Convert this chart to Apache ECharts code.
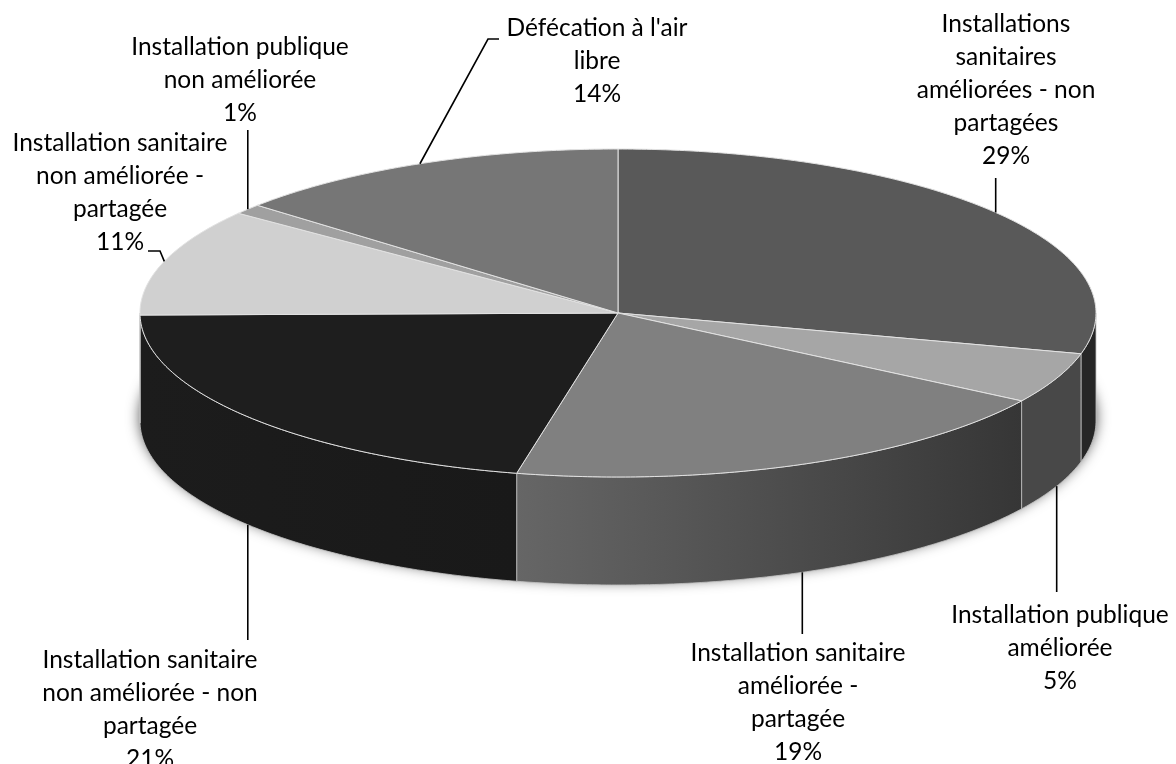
<!DOCTYPE html>
<html>
<head>
<meta charset="utf-8">
<title>Installations sanitaires</title>
<style>
html, body { margin: 0; padding: 0; background: #fff; }
#chart { width: 1176px; height: 764px; }
</style>
<script src="https://cdn.jsdelivr.net/npm/echarts@6/dist/echarts.min.js"></script>
</head>
<body>
<div id="chart"></div>
<script>
var categories = [
    'Installations\nsanitaires\naméliorées - non\npartagées',
    'Installation publique\naméliorée',
    'Installation sanitaire\naméliorée -\npartagée',
    'Installation sanitaire\nnon améliorée - non\npartagée',
    'Installation sanitaire\nnon améliorée -\npartagée',
    'Installation publique\nnon améliorée',
    "Défécation à l'air\nlibre"
];
// estimated from the slice edges, they round to the printed labels
var values = [29.0, 5.0, 19.4, 21.4, 10.6, 1.0, 13.6];

// styles
var topColors = ['#595959', '#a6a6a6', '#808080', '#1e1e1e', '#d0d0d0', '#a0a0a0', '#767676'];
var wallColors = [
    ['#262626', '#262626'],
    ['#484848', '#484848'],
    ['#666666', '#363636'],
    ['#1c1c1c', '#191919'],
    ['#333333', '#333333'],
    ['#333333', '#333333'],
    ['#333333', '#333333']
];
// label centres and leader routes (x null = straight down/up from the slice)
var labelPos = [[1006, 8], [1060, 599], [798, 637], [150, 644], [120, 127], [240, 31], [597, 12]];
var leaderRoutes = [
    [[null, 178]],
    [[null, 592]],
    [[null, 634]],
    [[null, 640]],
    [[160, 251], [148, 251]],
    [[null, 130]],
    [[488, 39], [499, 39]]
];

(function () {
    'use strict';
    var myChart = echarts.init(document.getElementById('chart'));

    // the pie as drawn in the picture: an ellipse and its thickness
    var cx = 618, cy = 313, rx = 478, ry = 164, depth = 108;

    var total = values.reduce(function (a, b) { return a + b; }, 0);

    function ellipsePoint(t, dy) {
        return [cx + rx * Math.sin(t), cy - ry * Math.cos(t) + (dy || 0)];
    }

    function arcPoints(a, b, dy) {
        var n = Math.max(2, Math.ceil((b - a) / 0.01));
        var pts = [];
        for (var i = 0; i <= n; i++) {
            pts.push(ellipsePoint(a + (b - a) * i / n, dy));
        }
        return pts;
    }

    function renderSlice(params, api) {
        var idx = params.dataIndex;
        var before = 0;
        for (var i = 0; i < idx; i++) before += values[i];
        var a = before / total * Math.PI * 2;
        var b = (before + api.value(0)) / total * Math.PI * 2;
        var mid = (a + b) / 2;
        var children = [];

        // soft shadow under the base, drawn once
        if (idx === 0) {
            children.push({
                type: 'polygon',
                z2: 0,
                shape: { points: arcPoints(0, Math.PI * 2, depth - 4) },
                style: { fill: '#fff', shadowBlur: 14, shadowColor: 'rgba(0,0,0,0.7)' }
            });
        }

        // wall, only the part facing the viewer
        var wa = Math.max(a, Math.PI / 2), wb = Math.min(b, Math.PI * 1.5);
        if (wb > wa) {
            var wall = arcPoints(wa, wb, 0).concat(arcPoints(wa, wb, depth).reverse());
            children.push({
                type: 'polygon',
                z2: 1,
                shape: { points: wall },
                style: {
                    fill: {
                        type: 'linear', x: 0, y: 0, x2: 1, y2: 0,
                        colorStops: [
                            { offset: 0, color: wallColors[idx][0] },
                            { offset: 1, color: wallColors[idx][1] }
                        ]
                    },
                    stroke: '#c4c4c4',
                    lineWidth: 0.8
                }
            });
        }

        // top face
        children.push({
            type: 'polygon',
            z2: 2,
            shape: { points: [[cx, cy]].concat(arcPoints(a, b, 0)) },
            style: { fill: topColors[idx], stroke: '#e2e2e2', lineWidth: 1 }
        });

        // leader from the middle of the slice's rim to the label
        var front = Math.cos(mid) < 0;
        var start = ellipsePoint(mid, front ? depth : 0);
        var route = [start].concat(leaderRoutes[idx].map(function (p) {
            return [p[0] === null ? start[0] : p[0], p[1]];
        }));
        children.push({
            type: 'polyline',
            z2: 3,
            shape: { points: route },
            style: { fill: null, stroke: '#000', lineWidth: 1.6 }
        });

        // label
        children.push({
            type: 'text',
            z2: 4,
            x: labelPos[idx][0],
            y: labelPos[idx][1],
            style: {
                text: categories[idx] + '\n' + Math.round(api.value(0)) + '%',
                fill: '#000',
                font: '24.5px Lato',
                lineHeight: 32.8,
                align: 'center',
                verticalAlign: 'top'
            }
        });

        return { type: 'group', children: children };
    }

    var option = {
        backgroundColor: '#fff',
        animation: false,
        series: [{
            type: 'custom',
            coordinateSystem: 'none',
            renderItem: renderSlice,
            data: values
        }]
    };

    myChart.setOption(option);
    window.addEventListener('resize', function () {
        myChart.resize();
    });
})();
</script>
</body>
</html>
